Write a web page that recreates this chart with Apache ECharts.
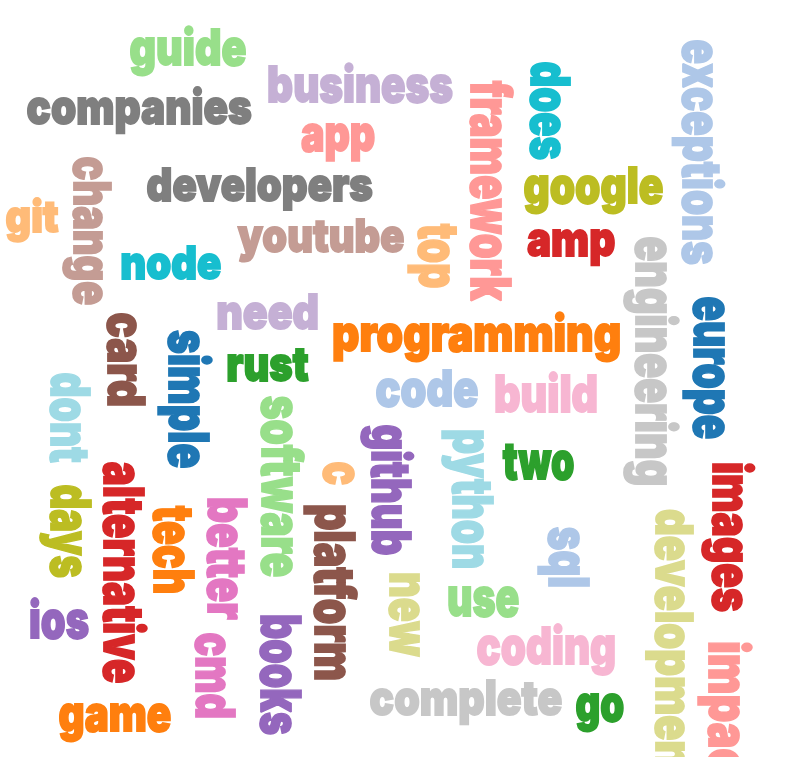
<!DOCTYPE html>
<html><head><meta charset="utf-8">
<script src="https://cdn.jsdelivr.net/npm/echarts@6/dist/echarts.min.js"></script>
<style>html,body{margin:0;padding:0;background:#fff}#c{width:806px;height:757px}</style>
</head><body><div id="c"></div>
<script>
// Word cloud content
const words = ['guide','companies','business','app','framework','does','exceptions','change','developers','google',
  'git','node','youtube','top','amp','engineering','need','europe','card','simple',
  'rust','programming','code','build','dont','software','c','github','python','two',
  'images','days','alternative','tech','better','platform','sql','development','new','use',
  'ios','cmd','books','coding','impact','game','complete','go'];
const colors = ['#98df8a','#7f7f7f','#c5b0d5','#ff9896','#ff9896','#17becf','#aec7e8','#c49c94','#7f7f7f','#bcbd22',
  '#ffbb78','#17becf','#c49c94','#ffbb78','#d62728','#c7c7c7','#c5b0d5','#1f77b4','#8c564b','#1f77b4',
  '#2ca02c','#ff7f0e','#aec7e8','#f7b6d2','#9edae5','#98df8a','#ffbb78','#9467bd','#9edae5','#2ca02c',
  '#d62728','#bcbd22','#d62728','#ff7f0e','#e377c2','#8c564b','#aec7e8','#dbdb8d','#dbdb8d','#98df8a',
  '#9467bd','#e377c2','#9467bd','#f7b6d2','#ff9896','#ff7f0e','#c7c7c7','#2ca02c'];
// word centre (data units of the hidden axes)
const centerX = [188,139.5,360.5,338,486.5,545.5,697.5,88,260,593.5,
  32.5,171,320.5,434,571,651,267.5,709,122,184,
  268,476.5,427,546,66,277,339.5,386.5,468,538,
  727.5,66,119,169,222.5,330.5,564,670,404.5,483.5,
  59.5,210.5,276.5,546,724,115,466,600];
const centerY = [51.5,111,88.5,137.5,191,111,152.5,231,188.5,189.5,
  220,266,239.5,255.5,243,361,316,368,359.5,399,
  368,337,392,397.5,418,486.5,473.5,490,499,465,
  537.5,531.5,572.5,549,559,592.5,557,647,615,601.5,
  624,675.5,675,650,717,717.5,702,707.5];
// lowercase body height and word length (data units)
const bodyHeight = [29,28,29,29,32,31,31,30,27,29,
  26,27,27,32,28,32,28,32,30,32,
  28,29,29,30,31,32,32,31,32,30,
  31,32,32,32,31,32,32,30,31,31,
  30,31,32,30,32,29,28,29];
const wordLength = [116,225,185,74,222,98,225,148,226,139,
  53,100,167,65,88,248,101,142,93,138,
  82,287,102,102,90,181,23,130,138,72,
  149,93,221,88,122,175,60,275,84,71,
  59,85,120,138,150,112,192,48];
const vertical = [0,0,0,0,1,1,1,1,0,0,
  0,0,0,1,0,1,0,1,1,1,
  0,0,0,0,1,1,1,1,1,0,
  1,1,1,1,1,1,1,1,1,0,
  0,1,1,0,1,0,0,0];

const FONT_FAMILY = 'Inter';
const FONT_WEIGHT = 900;
const OUTLINE = 1.8;
const mctx = document.createElement('canvas').getContext('2d');
function metrics(text) {
  mctx.font = FONT_WEIGHT + ' 100px "' + FONT_FAMILY + '"';
  mctx.textBaseline = 'middle';
  mctx.textAlign = 'left';
  const m = mctx.measureText(text);
  const x = mctx.measureText('x');
  return {L: m.actualBoundingBoxLeft, R: m.actualBoundingBoxRight,
          xa: x.actualBoundingBoxAscent, xd: x.actualBoundingBoxDescent};
}

const data = words.map((w, i) => [centerX[i], centerY[i], bodyHeight[i], wordLength[i], vertical[i], i]);

const chart = echarts.init(document.getElementById('c'), null, {renderer: 'canvas'});
chart.setOption({
  animation: false,
  backgroundColor: '#fff',
  grid: {left: 0, right: 0, top: 0, bottom: 0},
  xAxis: {type: 'value', min: 0, max: 806, show: false},
  yAxis: {type: 'value', min: 0, max: 757, inverse: true, show: false},
  series: [{
    type: 'custom',
    coordinateSystem: 'cartesian2d',
    clip: false,
    data: data,
    renderItem: function (params, api) {
      const i = api.value(5);
      const p = api.coord([api.value(0), api.value(1)]);
      const sz = api.size([api.value(3), api.value(2)]);
      const m = metrics(words[i]);
      const fs = 100 * (sz[1] - OUTLINE) / (m.xa + m.xd);
      const k = fs / 100;
      const inkW = (m.L + m.R) * k;
      const sx = sz[0] / (inkW + OUTLINE);
      return {
        type: 'text',
        x: p[0], y: p[1],
        rotation: api.value(4) ? -Math.PI / 2 : 0,
        scaleX: sx, scaleY: 1,
        style: {
          text: words[i],
          x: -(m.R - m.L) / 2 * k,
          y: (m.xa - m.xd) / 2 * k,
          fontSize: fs,
          fontFamily: FONT_FAMILY,
          fontWeight: FONT_WEIGHT,
          fill: colors[i],
          stroke: colors[i],
          lineWidth: OUTLINE,
          lineJoin: 'round',
          align: 'left',
          verticalAlign: 'middle'
        }
      };
    }
  }]
});
</script>
</body></html>
